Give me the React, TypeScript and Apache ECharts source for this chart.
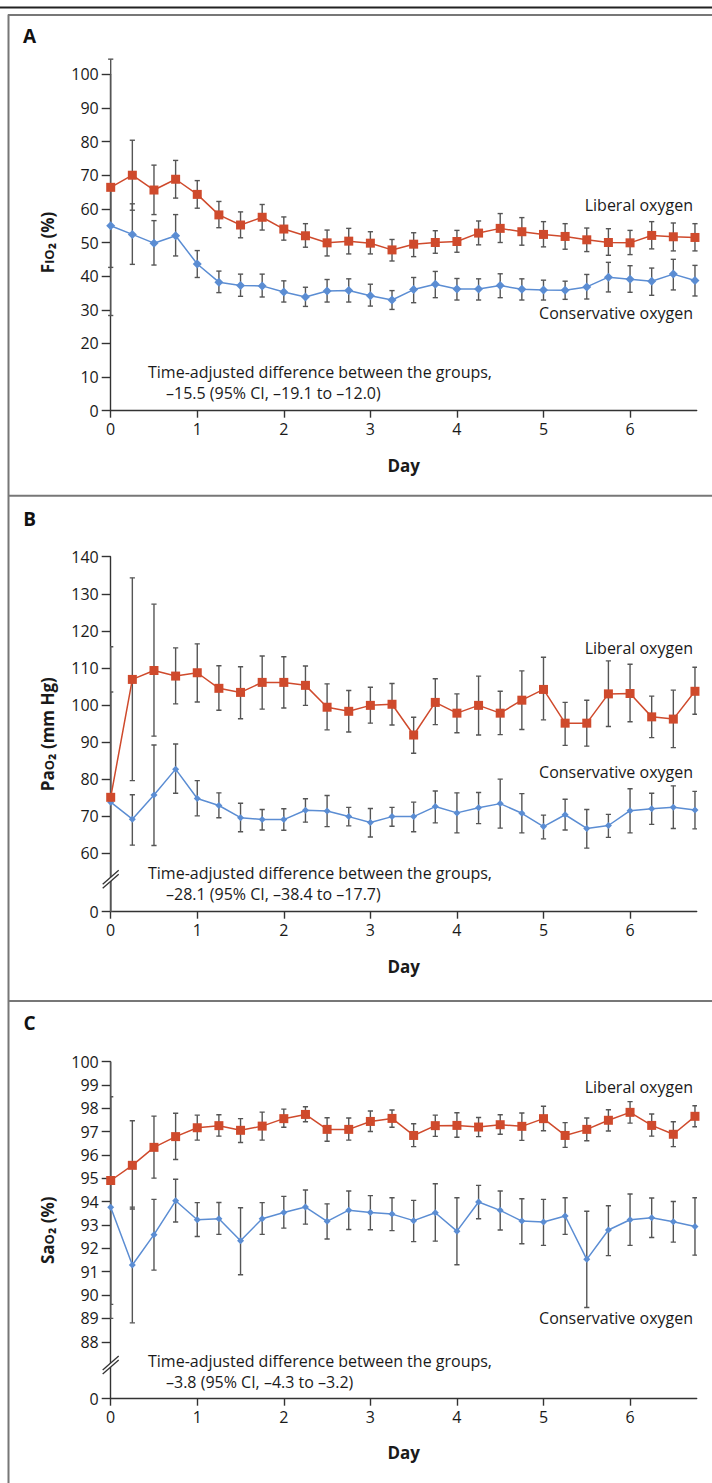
import React, { useEffect, useRef } from "react";
import * as echarts from "echarts";

const days = [0, 0.25, 0.5, 0.75, 1, 1.25, 1.5, 1.75, 2, 2.25, 2.5, 2.75, 3, 3.25, 3.5, 3.75, 4, 4.25, 4.5, 4.75, 5, 5.25, 5.5, 5.75, 6, 6.25, 6.5, 6.75];
const dayTicks = [0, 1, 2, 3, 4, 5, 6];

// Panel A: FiO2 (%)
const fio2Liberal = [66.4, 70.0, 65.6, 68.8, 64.3, 58.2, 55.2, 57.5, 54.0, 52.0, 49.9, 50.4, 49.8, 47.8, 49.5, 50.0, 50.3, 52.8, 54.2, 53.2, 52.4, 51.8, 50.8, 50.0, 49.9, 52.1, 51.7, 51.5];
const fio2LiberalLo = [28.3, 59.6, 58.3, 63.2, 60.2, 54.4, 51.4, 53.7, 50.7, 48.6, 46.0, 46.6, 46.6, 44.5, 45.8, 46.8, 47.1, 49.3, 50.0, 49.2, 48.7, 48.0, 47.3, 46.2, 46.4, 48.1, 47.5, 47.5];
const fio2LiberalHi = [104.5, 80.4, 73.0, 74.4, 68.4, 62.2, 59.1, 61.3, 57.6, 55.6, 53.7, 54.2, 53.2, 50.9, 52.9, 53.5, 53.6, 56.4, 58.6, 57.4, 56.2, 55.6, 54.3, 54.1, 53.6, 56.2, 55.8, 55.6];
const fio2Cons = [55.0, 52.4, 49.8, 52.0, 43.6, 38.2, 37.2, 37.1, 35.3, 33.8, 35.6, 35.7, 34.2, 32.9, 36.0, 37.6, 36.2, 36.2, 37.2, 36.1, 35.9, 35.8, 36.8, 39.7, 39.1, 38.5, 40.6, 38.7];
const fio2ConsLo = [42.6, 43.5, 43.3, 46.0, 39.6, 35.1, 34.0, 33.8, 32.3, 31.0, 32.3, 32.3, 31.1, 30.1, 32.1, 33.6, 32.9, 32.9, 33.6, 32.9, 32.9, 33.1, 33.2, 35.3, 35.2, 34.3, 35.9, 34.1];
const fio2ConsHi = [67.4, 61.5, 56.5, 58.3, 47.6, 41.5, 40.6, 40.6, 38.6, 36.7, 39.0, 39.2, 37.6, 35.7, 39.6, 41.4, 39.3, 39.2, 40.7, 39.2, 38.8, 38.5, 40.5, 44.1, 43.1, 42.4, 45.0, 43.2];

// Panel B: PaO2 (mm Hg)
const pao2Liberal = [75.1, 106.9, 109.3, 107.8, 108.7, 104.5, 103.4, 106.1, 106.1, 105.3, 99.4, 98.3, 99.9, 100.2, 91.9, 100.7, 97.8, 99.9, 97.8, 101.3, 104.2, 95.1, 95.1, 103.0, 103.1, 96.8, 96.2, 103.7];
const pao2LiberalLo = [34.5, 79.6, 91.6, 100.3, 100.8, 98.6, 96.3, 98.9, 99.2, 99.9, 93.3, 92.7, 95.1, 94.6, 87.0, 94.7, 92.5, 91.9, 92.0, 93.4, 96.0, 89.1, 88.9, 94.2, 95.5, 91.2, 88.5, 97.5];
const pao2LiberalHi = [115.7, 134.3, 127.2, 115.4, 116.5, 110.6, 110.3, 113.2, 113.0, 110.5, 105.7, 103.9, 104.8, 105.8, 96.7, 107.1, 103.0, 107.8, 103.7, 109.2, 112.9, 100.7, 101.3, 111.9, 111.0, 102.4, 104.0, 110.2];
const pao2Cons = [73.8, 69.2, 75.7, 82.7, 74.8, 72.9, 69.6, 69.1, 69.1, 71.6, 71.4, 69.9, 68.3, 69.9, 69.9, 72.6, 70.9, 72.3, 73.4, 70.8, 67.2, 70.4, 66.7, 67.5, 71.5, 72.0, 72.4, 71.7];
const pao2ConsLo = [44.1, 62.2, 62.1, 76.2, 70.1, 69.6, 65.8, 66.3, 66.2, 68.4, 67.2, 67.4, 64.4, 67.3, 65.8, 68.2, 65.5, 68.0, 66.8, 65.5, 63.9, 66.3, 61.4, 64.3, 65.5, 67.8, 66.7, 66.6];
const pao2ConsHi = [103.5, 75.8, 89.2, 89.5, 79.6, 76.3, 73.5, 71.8, 72.0, 74.7, 75.6, 72.4, 72.1, 72.4, 73.8, 76.8, 76.3, 76.4, 80.0, 76.1, 70.3, 74.6, 71.8, 70.5, 77.4, 76.2, 78.2, 76.7];

// Panel C: SaO2 (%)
const sao2Liberal = [94.91, 95.56, 96.33, 96.79, 97.17, 97.26, 97.06, 97.24, 97.56, 97.74, 97.10, 97.10, 97.44, 97.57, 96.84, 97.26, 97.27, 97.20, 97.30, 97.23, 97.56, 96.84, 97.10, 97.49, 97.83, 97.27, 96.89, 97.66];
const sao2LiberalLo = [89.6, 93.69, 95.01, 95.81, 96.64, 96.81, 96.54, 96.64, 97.19, 97.43, 96.59, 96.64, 97.01, 97.19, 96.36, 96.80, 96.76, 96.79, 96.89, 96.63, 97.04, 96.33, 96.61, 97.03, 97.37, 96.81, 96.36, 97.21];
const sao2LiberalHi = [100.2, 97.47, 97.67, 97.79, 97.71, 97.73, 97.56, 97.84, 97.97, 98.07, 97.60, 97.59, 97.89, 97.93, 97.34, 97.71, 97.81, 97.61, 97.73, 97.80, 98.09, 97.39, 97.59, 97.94, 98.29, 97.76, 97.43, 98.11];
const sao2Cons = [93.76, 91.29, 92.59, 94.04, 93.23, 93.27, 92.33, 93.27, 93.54, 93.77, 93.16, 93.64, 93.54, 93.47, 93.19, 93.53, 92.74, 93.99, 93.63, 93.17, 93.13, 93.39, 91.53, 92.79, 93.23, 93.31, 93.14, 92.94];
const sao2ConsLo = [89.0, 88.81, 91.07, 93.13, 92.51, 92.60, 90.87, 92.60, 92.87, 93.04, 92.40, 92.81, 92.80, 92.76, 92.29, 92.31, 91.30, 93.27, 92.79, 92.20, 92.13, 92.60, 89.47, 91.69, 92.13, 92.47, 92.27, 91.71];
const sao2ConsHi = [98.5, 93.77, 94.10, 94.96, 93.96, 93.97, 93.74, 93.96, 94.23, 94.50, 93.91, 94.46, 94.26, 94.17, 94.06, 94.77, 94.17, 94.70, 94.46, 94.13, 94.10, 94.17, 93.59, 93.83, 94.33, 94.16, 94.01, 94.17];

// Axis ticks (broken axes: the lowest tick stands for 0)
const ticksA = [0, 10, 20, 30, 40, 50, 60, 70, 80, 90, 100];
const ticksB = [44.25, 60, 70, 80, 90, 100, 110, 120, 130, 140];
const ticksC = [85.56, 88, 89, 90, 91, 92, 93, 94, 95, 96, 97, 98, 99, 100];
const breakB = 53;
const breakC = 87;

const FONT = "'Open Sans', sans-serif";
const RED = "#cf4a2c";
const BLUE = "#5b8dd3";
const ERR = "#555555";
const TXT = "#1a1a1a";

const panels = [
  {
    label: "A", top: 74.3, height: 336.4, min: 0, max: 100, ticks: ticksA, zeroAt: 0,
    lib: fio2Liberal, libLo: fio2LiberalLo, libHi: fio2LiberalHi,
    cons: fio2Cons, consLo: fio2ConsLo, consHi: fio2ConsHi,
    consSymbol: 9, clip: false, breakAt: null as number | null,
    name: "{a|F}{s|IO}{a|₂ (%)}",
    diff: ["Time-adjusted difference between the groups,", "–15.5 (95% CI, –19.1 to –12.0)"],
    labelY: 36, dividerY: 15, libTextY: 205, consTextY: 313.3, diffY: [371.7, 393.3], dayY: 465,
  },
  {
    label: "B", top: 556.7, height: 355, min: 44.25, max: 140, ticks: ticksB, zeroAt: 44.25,
    lib: pao2Liberal, libLo: pao2LiberalLo, libHi: pao2LiberalHi,
    cons: pao2Cons, consLo: pao2ConsLo, consHi: pao2ConsHi,
    consSymbol: 7, clip: true, breakAt: breakB,
    name: "{a|Pa}{s|O}{a|₂ (mm Hg)}",
    diff: ["Time-adjusted difference between the groups,", "–28.1 (95% CI, –38.4 to –17.7)"],
    labelY: 518.5, dividerY: 495.7, libTextY: 647.7, consTextY: 771.7, diffY: [872.7, 894], dayY: 966,
  },
  {
    label: "C", top: 1061.7, height: 337, min: 85.56, max: 100, ticks: ticksC, zeroAt: 85.56,
    lib: sao2Liberal, libLo: sao2LiberalLo, libHi: sao2LiberalHi,
    cons: sao2Cons, consLo: sao2ConsLo, consHi: sao2ConsHi,
    consSymbol: 7, clip: true, breakAt: breakC,
    name: "{a|Sa}{s|O}{a|₂ (%)}",
    diff: ["Time-adjusted difference between the groups,", "–3.8 (95% CI, –4.3 to –3.2)"],
    labelY: 1023, dividerY: 1001, libTextY: 1087.3, consTextY: 1317.7, diffY: [1361, 1382], dayY: 1452,
  },
];

const GRID_LEFT = 110.7;
const GRID_WIDTH = 586;
const X_MAX = 6.77;

function errorRender(params: any, api: any) {
  const x = api.value(0);
  const lo = api.value(1);
  const hi = api.value(2);
  const pHi = api.coord([x, hi]);
  const pLo = api.coord([x, lo]);
  const w = 2.6;
  const style = { stroke: ERR, lineWidth: 1.4 };
  return {
    type: "group",
    children: [
      { type: "line", shape: { x1: pHi[0], y1: pHi[1], x2: pLo[0], y2: pLo[1] }, style },
      { type: "line", shape: { x1: pHi[0] - w, y1: pHi[1], x2: pHi[0] + w, y2: pHi[1] }, style },
      { type: "line", shape: { x1: pLo[0] - w, y1: pLo[1], x2: pLo[0] + w, y2: pLo[1] }, style },
    ],
  };
}

export default function App() {
  const ref = useRef<HTMLDivElement>(null);

  useEffect(() => {
    document.body.style.margin = "0";
    if (!ref.current) return;
    const chart = echarts.init(ref.current, null, { renderer: "svg" });

    const grids: any[] = [];
    const xAxes: any[] = [];
    const yAxes: any[] = [];
    const series: any[] = [];
    const staticGraphics: any[] = [];

    // frame
    staticGraphics.push({ type: "line", shape: { x1: 0, y1: 7.5, x2: 712, y2: 7.5 }, style: { stroke: "#222", lineWidth: 2 }, silent: true });
    staticGraphics.push({ type: "line", shape: { x1: 8.5, y1: 14.5, x2: 8.5, y2: 1483 }, style: { stroke: "#777", lineWidth: 2 }, silent: true });

    panels.forEach((p, i) => {
      grids.push({ left: GRID_LEFT, top: p.top, width: GRID_WIDTH, height: p.height, containLabel: false });
      xAxes.push({
        type: "value", gridIndex: i, min: 0, max: X_MAX,
        axisLine: { show: true, onZero: false, lineStyle: { color: "#333", width: 1.4 } },
        axisTick: { show: true, length: 7, customValues: dayTicks, lineStyle: { color: "#333", width: 1.4 } },
        axisLabel: { customValues: dayTicks, fontSize: 16, color: TXT, margin: 10, fontFamily: FONT },
        splitLine: { show: false },
      });
      const zeroAt = p.zeroAt;
      yAxes.push({
        type: "value", gridIndex: i, min: p.min, max: p.max,
        ...(i === 0 ? { interval: 10 } : {}),
        axisLine: { show: true, onZero: false, lineStyle: { color: "#333", width: 1.4 } },
        axisTick: { show: true, length: 9, customValues: p.ticks, lineStyle: { color: "#333", width: 1.4 } },
        axisLabel: {
          customValues: p.ticks, fontSize: 16, color: TXT, margin: 12, fontFamily: FONT,
          formatter: (v: number) => (Math.abs(v - zeroAt) < 1e-6 ? "0" : String(Math.round(v))),
        },
        splitLine: { show: false },
      });
      const libErr = days.map((d, k) => [d, p.libLo[k], p.libHi[k]]);
      const consErr = days.map((d, k) => [d, p.consLo[k], p.consHi[k]]);
      series.push({
        type: "custom", xAxisIndex: i, yAxisIndex: i, renderItem: errorRender, data: consErr,
        encode: { x: 0, y: [1, 2] }, clip: p.clip, z: 1, silent: true,
      });
      series.push({
        type: "custom", xAxisIndex: i, yAxisIndex: i, renderItem: errorRender, data: libErr,
        encode: { x: 0, y: [1, 2] }, clip: p.clip, z: 1, silent: true,
      });
      series.push({
        type: "line", name: "Conservative oxygen", xAxisIndex: i, yAxisIndex: i,
        data: days.map((d, k) => [d, p.cons[k]]),
        symbol: "diamond", symbolSize: p.consSymbol, showAllSymbol: true,
        lineStyle: { color: BLUE, width: 1.5 }, itemStyle: { color: BLUE }, z: 3,
      });
      series.push({
        type: "line", name: "Liberal oxygen", xAxisIndex: i, yAxisIndex: i,
        data: days.map((d, k) => [d, p.lib[k]]),
        symbol: "rect", symbolSize: 9, showAllSymbol: true,
        lineStyle: { color: RED, width: 1.5 }, itemStyle: { color: RED }, z: 4,
      });

      // panel divider and label
      staticGraphics.push({ type: "line", shape: { x1: 8, y1: p.dividerY, x2: 712, y2: p.dividerY }, style: { stroke: "#777", lineWidth: 2 }, silent: true });
      staticGraphics.push({ type: "text", x: 29.5, y: p.labelY, style: { text: p.label, font: `bold 19px ${FONT}`, fill: "#111", align: "center", verticalAlign: "middle" }, silent: true });
      // y-axis title
      staticGraphics.push({
        type: "text", x: 45, y: p.top + p.height / 2, rotation: Math.PI / 2, silent: true,
        style: {
          text: p.name, align: "center", verticalAlign: "middle", fill: TXT,
          rich: {
            a: { fontFamily: FONT, fontWeight: "bold", fontSize: 17, fill: TXT, verticalAlign: "bottom", lineHeight: 22 },
            s: { fontFamily: FONT, fontWeight: "bold", fontSize: 13, fill: TXT, verticalAlign: "bottom", lineHeight: 22, padding: [0, 0, 1, 0] },
          },
        },
      });
      // Day
      staticGraphics.push({ type: "text", x: GRID_LEFT + GRID_WIDTH / 2, y: p.dayY, style: { text: "Day", font: `bold 17px ${FONT}`, fill: TXT, align: "center", verticalAlign: "middle" }, silent: true });
      // series labels
      staticGraphics.push({ type: "text", x: 693, y: p.libTextY, style: { text: "Liberal oxygen", font: `16px ${FONT}`, fill: TXT, align: "right", verticalAlign: "middle" }, silent: true });
      staticGraphics.push({ type: "text", x: 693, y: p.consTextY, style: { text: "Conservative oxygen", font: `16px ${FONT}`, fill: TXT, align: "right", verticalAlign: "middle" }, silent: true });
      // difference annotation
      staticGraphics.push({ type: "text", x: 148, y: p.diffY[0], style: { text: p.diff[0], font: `16px ${FONT}`, fill: TXT, align: "left", verticalAlign: "middle" }, silent: true });
      staticGraphics.push({ type: "text", x: 166, y: p.diffY[1], style: { text: p.diff[1], font: `16px ${FONT}`, fill: TXT, align: "left", verticalAlign: "middle" }, silent: true });
    });

    chart.setOption({
      animation: false,
      backgroundColor: "#ffffff",
      textStyle: { fontFamily: FONT },
      grid: grids,
      xAxis: xAxes,
      yAxis: yAxes,
      series,
      graphic: staticGraphics,
    });

    // axis-break marks positioned through the axis scale
    const breakGraphics: any[] = [];
    panels.forEach((p, i) => {
      if (p.breakAt == null) return;
      const pt = chart.convertToPixel({ gridIndex: i } as any, [0, p.breakAt]) as number[];
      const cx = pt[0];
      const cy = pt[1];
      breakGraphics.push({ type: "polygon", shape: { points: [[cx - 3, cy + 1], [cx + 3, cy - 5], [cx + 3, cy - 1], [cx - 3, cy + 5]] }, style: { fill: "#fff" }, z: 100, silent: true });
      breakGraphics.push({ type: "line", shape: { x1: cx - 8, y1: cy + 5, x2: cx + 8, y2: cy - 9 }, style: { stroke: "#333", lineWidth: 1.3 }, z: 101, silent: true });
      breakGraphics.push({ type: "line", shape: { x1: cx - 8, y1: cy + 9, x2: cx + 8, y2: cy - 5 }, style: { stroke: "#333", lineWidth: 1.3 }, z: 101, silent: true });
    });
    chart.setOption({ graphic: [...staticGraphics, ...breakGraphics] });

    return () => chart.dispose();
  }, []);

  return <div ref={ref} style={{ width: 712, height: 1483, background: "#fff" }} />;
}
